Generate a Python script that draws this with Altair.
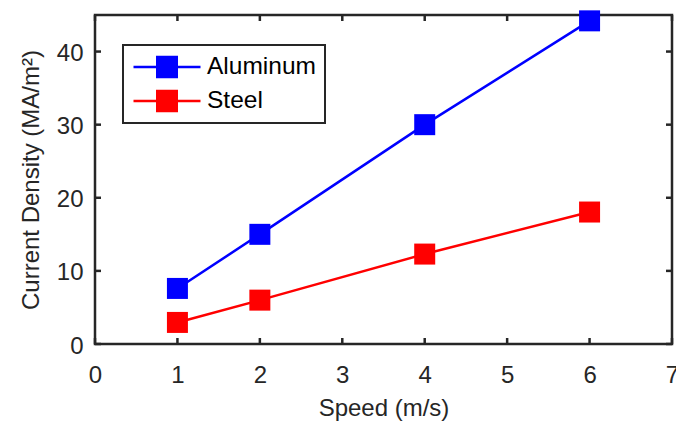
import altair as alt
import pandas as pd

# ---- data ----
speed = [1, 2, 4, 6]
aluminum = [7.6, 15.0, 30.0, 44.2]
steel = [2.95, 6.0, 12.3, 18.05]
series_names = ["Aluminum", "Steel"]
series_colors = ["#0000FF", "#FF0000"]
x_ticks = [0, 1, 2, 3, 4, 5, 6, 7]
y_ticks = [0, 10, 20, 30, 40]

W, H = 577, 329
FONT = "Liberation Sans"
AX = "#262626"

rows = []
for s, vals in zip(series_names, [aluminum, steel]):
    for xv, yv in zip(speed, vals):
        rows.append({"x": xv, "y": yv, "series": s})
df = pd.DataFrame(rows)

xs = alt.Scale(domain=[0, 7], nice=False, zero=False)
ys = alt.Scale(domain=[0, 45], nice=False, zero=False)

X = alt.X("x:Q", scale=xs, axis=alt.Axis(values=x_ticks, title="Speed (m/s)", format="d",
                                          ticks=False, tickSize=0, domain=False, grid=False,
                                          labelFlush=False, labelOverlap=False,
                                          labelPadding=19, titlePadding=9))
Y = alt.Y("y:Q", scale=ys, axis=alt.Axis(values=y_ticks, title="Current Density (MA/m²)", format="d",
                                          ticks=False, tickSize=0, domain=False, grid=False,
                                          labelFlush=False, labelOverlap=False,
                                          labelPadding=12, titlePadding=13, labelOffset=2))

color_scale = alt.Scale(domain=series_names, range=series_colors)

# legend glyph: a line through a square "filled" with stacked stroke segments
SYM = 67.0  # px span of symbol
unit = SYM / 2
half_sq = 11.0 / unit
parts = ["M-1,0H1"]
for k in range(-5, 6):
    yy = k * 2.0 / unit
    parts.append(f"M{-half_sq:.4f},{yy:.4f}H{half_sq:.4f}")
sym_path = "".join(parts)

legend = alt.Legend(
    title=None, orient="none", legendX=28, legendY=30,
    symbolType=sym_path,
    symbolSize=SYM * SYM, symbolStrokeWidth=2.5, symbolOpacity=1,
    labelFont=FONT, labelFontSize=24.5, labelColor="black",
    labelOffset=5, padding=9, rowPadding=8, clipHeight=26,
    strokeColor=AX, fillColor="white",
)

lines = alt.Chart(df).mark_line(strokeWidth=2.5).encode(
    x=X, y=Y,
    color=alt.Color("series:N", scale=color_scale, legend=legend),
)
points = alt.Chart(df).mark_point(shape="square", size=441, filled=True, opacity=1,
                                  strokeWidth=1).encode(
    x=X, y=Y,
    color=alt.Color("series:N", scale=color_scale, legend=None),
)

xt = pd.DataFrame({"x": x_ticks})
yt = pd.DataFrame({"y": y_ticks})
TL = 6
tick_bottom = alt.Chart(xt).mark_rule(color=AX, strokeWidth=2.5).encode(
    x=X, y=alt.value(H), y2=alt.value(H - TL))
tick_top = alt.Chart(xt).mark_rule(color=AX, strokeWidth=2.5).encode(
    x=X, y=alt.value(0), y2=alt.value(TL))
tick_left = alt.Chart(yt).mark_rule(color=AX, strokeWidth=2.5).encode(
    y=Y, x=alt.value(0), x2=alt.value(TL))
tick_right = alt.Chart(yt).mark_rule(color=AX, strokeWidth=2.5).encode(
    y=Y, x=alt.value(W), x2=alt.value(W - TL))

chart = alt.layer(tick_bottom, tick_top, tick_left, tick_right, lines, points).properties(
    width=W, height=H,
    autosize=alt.AutoSizeParams(type="none"),
    padding={"left": 95, "top": 15, "right": 4, "bottom": 79},
    background="white",
).configure_view(
    stroke=AX, strokeWidth=2.5
).configure_axis(
    labelFont=FONT, labelFontSize=24, labelColor=AX,
    titleFont=FONT, titleFontSize=24, titleColor=AX, titleFontWeight="normal",
).configure_legend(
    strokeWidth=2
)

chart.save("out.html", embed_options={"renderer": "svg", "actions": False})
